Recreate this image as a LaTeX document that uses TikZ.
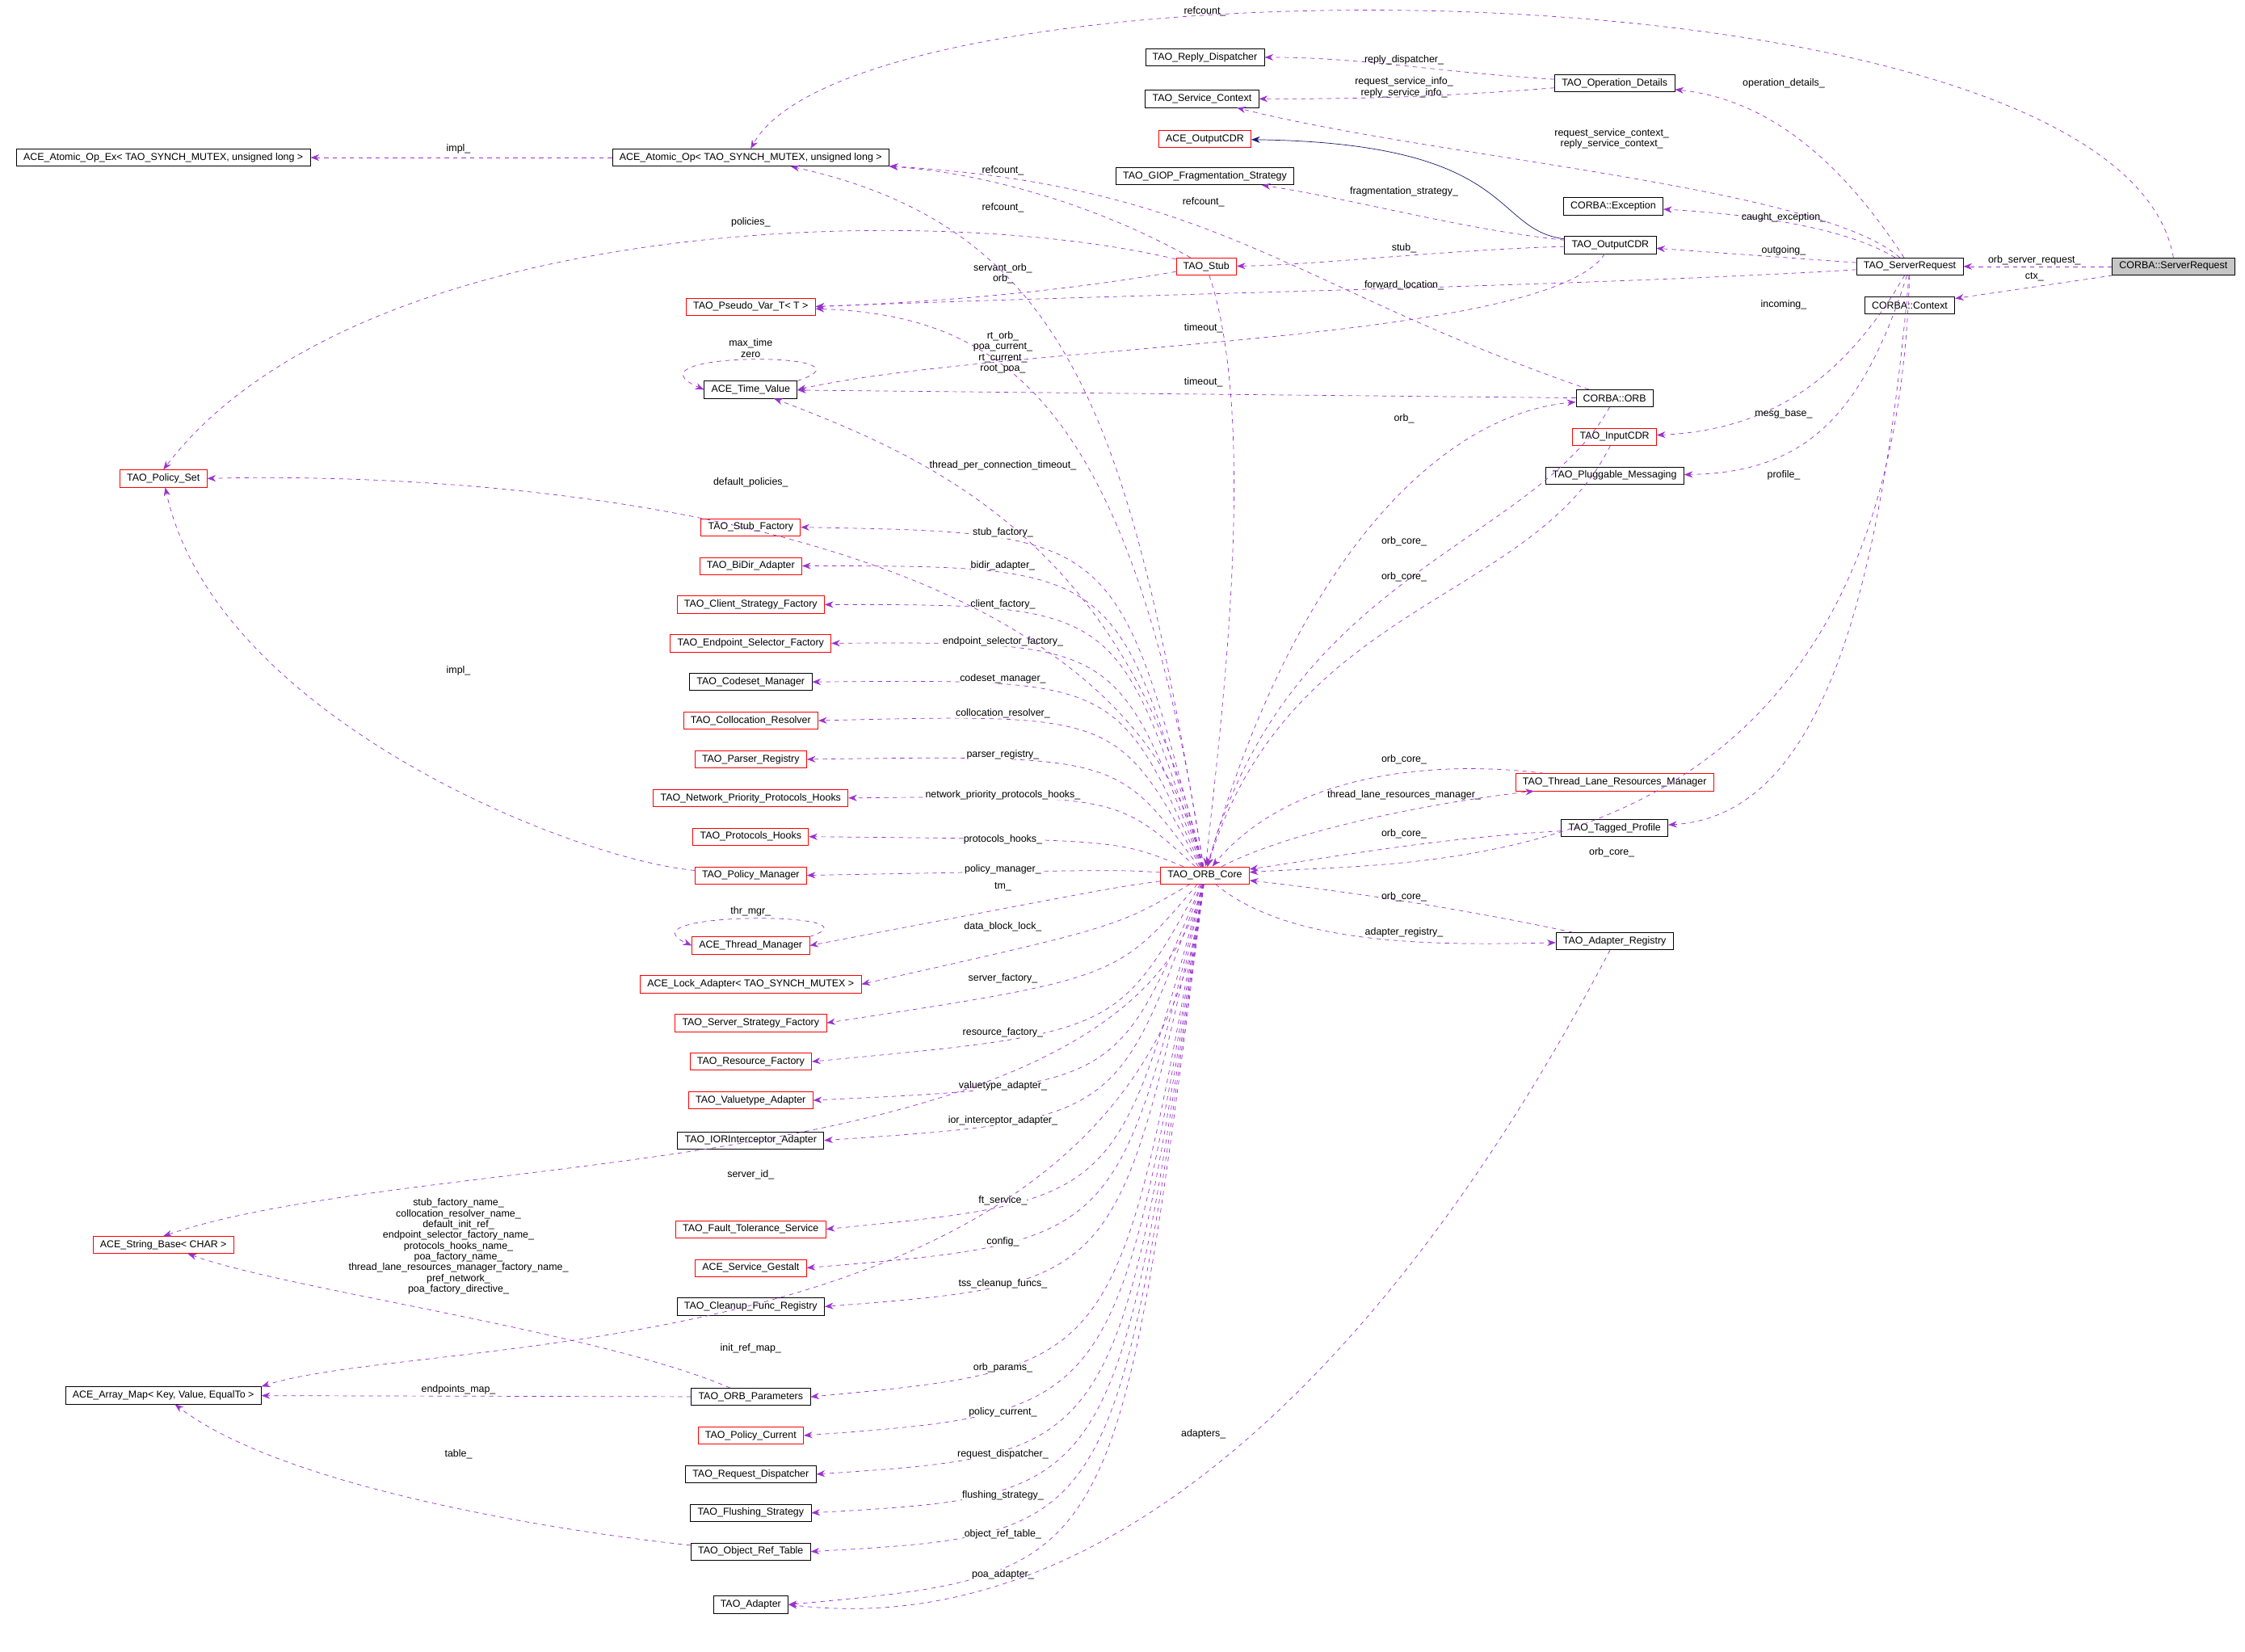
\documentclass[tikz,border=0pt]{standalone}
\usepackage{fontspec}
\setmainfont{Liberation Sans}
\usetikzlibrary{arrows.meta}
\definecolor{edgepurple}{HTML}{9A32CD}
\definecolor{inhblue}{HTML}{191970}
\tikzset{
  cls/.style = {draw=black, fill=white, inner xsep=5pt, inner ysep=1pt,
                minimum height=12pt, font=\fontsize{7}{8}\selectfont},
  ncls/.style = {cls, draw=red},
  dep/.style = {draw=edgepurple, dashed, -{Stealth[length=6pt,width=4.5pt]}},
  inh/.style = {draw=inhblue, -{Stealth[length=6pt,width=4.5pt]}},
  lbl/.style = {font=\fontsize{7}{7.5}\selectfont, align=center, inner sep=0pt}
}
\begin{document}
\catcode`\_=12
\begin{tikzpicture}[x=1pt,y=-1pt]
\useasboundingbox[fill=white] (0,0) rectangle (1567,1153);
% right side
\node[cls,fill=gray!45] (sreq) at (1517,186) {CORBA::ServerRequest};
\node[cls] (tsreq) at (1333,186) {TAO_ServerRequest};
\node[cls] (ctx) at (1333,213) {CORBA::Context};
\node[cls] (opdet) at (1127,58) {TAO_Operation_Details};
\node[cls] (exc) at (1126,144) {CORBA::Exception};
\node[cls] (ocdr) at (1124,171) {TAO_OutputCDR};
\node[cls] (orb) at (1127,278) {CORBA::ORB};
\node[ncls] (icdr) at (1127,305) {TAO_InputCDR};
\node[cls] (plug) at (1127,332) {TAO_Pluggable_Messaging};
\node[ncls] (tlrm) at (1127,546) {TAO_Thread_Lane_Resources_Manager};
\node[cls] (tagp) at (1127,578) {TAO_Tagged_Profile};
\node[cls] (adreg) at (1127,657) {TAO_Adapter_Registry};
% middle
\node[cls] (repd) at (841,40) {TAO_Reply_Dispatcher};
\node[cls] (svctx) at (839,69) {TAO_Service_Context};
\node[ncls] (acdr) at (841,97) {ACE_OutputCDR};
\node[cls] (frag) at (841,123) {TAO_GIOP_Fragmentation_Strategy};
\node[ncls] (stub) at (842,186) {TAO_Stub};
\node[ncls] (core) at (841,611) {TAO_ORB_Core};
% left
\node[cls] (atomex) at (114,110) {ACE_Atomic_Op_Ex< TAO_SYNCH_MUTEX, unsigned long >};
\node[cls] (atom) at (524,110) {ACE_Atomic_Op< TAO_SYNCH_MUTEX, unsigned long >};
\node[ncls] (pvar) at (524,214) {TAO_Pseudo_Var_T< T >};
\node[cls] (tv) at (524,272) {ACE_Time_Value};
\node[ncls] (pset) at (114,334) {TAO_Policy_Set};
\node[ncls] (strb) at (114,869) {ACE_String_Base< CHAR >};
\node[cls] (amap) at (114,974) {ACE_Array_Map< Key, Value, EqualTo >};

% ORB core members in the left column
\foreach \n/\t/\y/\c/\lab/\ly in {
  stubf/TAO_Stub_Factory/368/red/stub_factory_/372,
  bidir/TAO_BiDir_Adapter/395/red/bidir_adapter_/395,
  clistr/TAO_Client_Strategy_Factory/422/red/client_factory_/422,
  endsel/TAO_Endpoint_Selector_Factory/449/red/endpoint_selector_factory_/448,
  codeset/TAO_Codeset_Manager/476/black/codeset_manager_/474,
  colres/TAO_Collocation_Resolver/503/red/collocation_resolver_/498,
  parser/TAO_Parser_Registry/530/red/parser_registry_/527,
  netprio/TAO_Network_Priority_Protocols_Hooks/557/red/network_priority_protocols_hooks_/555,
  prothk/TAO_Protocols_Hooks/584/red/protocols_hooks_/586,
  polmgr/TAO_Policy_Manager/611/red/policy_manager_/607,
  thrmgr/ACE_Thread_Manager/660/red/tm_/619,
  lockad/{ACE_Lock_Adapter< TAO_SYNCH_MUTEX >}/687/red/data_block_lock_/647,
  srvstr/TAO_Server_Strategy_Factory/714/red/server_factory_/683,
  resf/TAO_Resource_Factory/741/red/resource_factory_/721,
  valt/TAO_Valuetype_Adapter/768/red/valuetype_adapter_/758,
  iorint/TAO_IORInterceptor_Adapter/796/black/ior_interceptor_adapter_/782,
  ftsrv/TAO_Fault_Tolerance_Service/858/red/ft_service_/838,
  gestalt/ACE_Service_Gestalt/885/red/config_/867,
  cleanup/TAO_Cleanup_Func_Registry/912/black/tss_cleanup_funcs_/896,
  orbpar/TAO_ORB_Parameters/975/black/orb_params_/955,
  polcur/TAO_Policy_Current/1002/red/policy_current_/986,
  reqdis/TAO_Request_Dispatcher/1029/black/request_dispatcher_/1015,
  flush/TAO_Flushing_Strategy/1056/black/flushing_strategy_/1044,
  objref/TAO_Object_Ref_Table/1083/black/object_ref_table_/1071,
  adapter/TAO_Adapter/1120/black/poa_adapter_/1099}
{
  \node[cls,draw=\c] (\n) at (524,\y) {\t};
  \draw[dep] (core) .. controls (780,\ly) .. (\n.east);
  \node[lbl,fill=white] (l\n) at (700,\ly) {\lab};
}

% server request
\draw[dep] (sreq.north) .. controls (1480,-35) and (600,-35) .. (atom.north);
\node[lbl] (lrefa) at (841,8) {refcount_};
\draw[dep] (sreq) -- (tsreq);
\node[lbl] (lorbsr) at (1420,182) {orb_server_request_};
\draw[dep] (sreq) -- (ctx);
\node[lbl] (lctx) at (1420,193) {ctx_};
\draw[dep] (tsreq) .. controls (1290,120) and (1240,70) .. (opdet);
\node[lbl] (lopd) at (1245,58) {operation_details_};
\draw[dep] (tsreq) .. controls (1270,130) and (1000,110) .. (svctx);
\node[lbl] (lrsc) at (1125,97) {request_service_context_\\reply_service_context_};
\draw[dep] (tsreq) .. controls (1290,160) and (1230,150) .. (exc);
\node[lbl] (lcexc) at (1245,152) {caught_exception_};
\draw[dep] (tsreq) -- (ocdr);
\node[lbl] (lout) at (1245,175) {outgoing_};
\draw[dep] (tsreq) .. controls (1100,200) and (800,205) .. (pvar.east);
\node[lbl] (lfwd) at (980,199) {forward_location_};
\draw[dep] (tsreq) .. controls (1290,260) and (1240,300) .. (icdr);
\node[lbl] (linc) at (1245,213) {incoming_};
\draw[dep] (tsreq) .. controls (1300,290) and (1260,330) .. (plug);
\node[lbl] (lmsg) at (1245,289) {mesg_base_};
\draw[dep] (tsreq) .. controls (1310,450) and (1260,570) .. (tagp);
\node[lbl] (lprof) at (1245,332) {profile_};
\draw[dep] (tsreq) .. controls (1320,620) and (1000,600) .. (core);
\node[lbl] (lcore1) at (1125,595) {orb_core_};
% operation details and output cdr
\draw[dep] (opdet) .. controls (1000,50) and (950,40) .. (repd);
\node[lbl] (lrep) at (980,42) {reply_dispatcher_};
\draw[dep] (opdet) .. controls (1000,68) and (950,69) .. (svctx);
\node[lbl] (lrsi) at (980,61) {request_service_info_\\reply_service_info_};
\draw[inh] (ocdr) .. controls (1040,160) and (1060,100) .. (acdr);
\draw[dep] (ocdr) .. controls (1020,160) and (950,140) .. (frag);
\node[lbl] (lfrag) at (980,134) {fragmentation_strategy_};
\draw[dep] (ocdr) .. controls (1000,175) and (920,185) .. (stub);
\node[lbl] (lstub) at (980,173) {stub_};
\draw[dep] (ocdr) .. controls (1080,240) and (700,240) .. (tv.east);
\node[lbl] (ltout1) at (840,229) {timeout_};
% stub
\draw[dep] (stub) .. controls (760,140) and (680,120) .. (atom);
\node[lbl] (lrefs) at (700,119) {refcount_};
\draw[dep] (stub) .. controls (760,200) and (680,210) .. (pvar.east);
\node[lbl] (lsorb) at (700,191) {servant_orb_\\orb_};
\draw[dep] (stub) .. controls (650,140) and (250,150) .. (pset.north);
\node[lbl] (lpol) at (524,155) {policies_};
\draw[dep] (stub) .. controls (880,300) and (850,520) .. (core);
\draw[dep] (atom) -- (atomex);
\node[lbl] (limpl) at (320,104) {impl_};
% ORB
\draw[dep] (orb) -- (tv);
\node[lbl] (ltout2) at (840,267) {timeout_};
\draw[dep] (orb) .. controls (900,200) and (850,130) .. (atom);
\node[lbl] (lrefo) at (840,141) {refcount_};
\draw[dep] (orb) .. controls (1070,380) and (900,400) .. (core);
\node[lbl] (lcore2) at (980,378) {orb_core_};
\draw[dep] (icdr) .. controls (1070,420) and (900,420) .. (core);
\node[lbl] (lcore3) at (980,403) {orb_core_};
\draw[dep] (tv.north east) .. controls (620,245) and (430,245) .. (tv.west);
\node[lbl] (lmaxt) at (524,243) {max_time\\zero};
% ORB core, other members
\draw[dep] (core) .. controls (790,300) and (750,160) .. (atom);
\node[lbl] (lrefc) at (700,145) {refcount_};
\draw[dep] (core) .. controls (790,280) and (700,220) .. (pvar);
\node[lbl] (lrto) at (700,246) {rt_orb_\\poa_current_\\rt_current_\\root_poa_};
\draw[dep] (core) .. controls (790,380) and (650,320) .. (tv);
\node[lbl,fill=white] (ltpc) at (700,325) {thread_per_connection_timeout_};
\draw[dep] (core) .. controls (900,400) and (1000,290) .. (orb);
\node[lbl] (lorb) at (980,292) {orb_};
\draw[dep] (core) .. controls (780,345) and (300,330) .. (pset.east);
\node[lbl,fill=white] (ldefp) at (524,337) {default_policies_};
\draw[dep] (core) .. controls (790,830) and (300,800) .. (strb.north);
\node[lbl,fill=white] (lsrvid) at (524,820) {server_id_};
\draw[dep] (core) .. controls (800,960) and (300,930) .. (amap.north east);
\node[lbl,fill=white] (liref) at (524,941) {init_ref_map_};
\draw[dep] (core) .. controls (900,580) and (1000,560) .. (tlrm);
\node[lbl] (ltlrm) at (980,555) {thread_lane_resources_manager_};
\draw[dep] (tlrm) .. controls (1000,530) and (900,540) .. (core);
\node[lbl] (lcore4) at (980,530) {orb_core_};
\draw[dep] (tagp) .. controls (1000,585) and (920,600) .. (core);
\node[lbl] (lcore5) at (980,582) {orb_core_};
\draw[dep] (adreg) .. controls (1000,630) and (920,620) .. (core);
\node[lbl] (lcore6) at (980,626) {orb_core_};
\draw[dep] (core) .. controls (900,660) and (1000,660) .. (adreg);
\node[lbl] (ladreg) at (980,651) {adapter_registry_};
\draw[dep] (adreg) .. controls (1000,900) and (800,1150) .. (adapter.east);
\node[lbl] (ladap) at (840,1001) {adapters_};
% left column dependencies
\draw[dep] (thrmgr.north east) .. controls (620,636) and (430,636) .. (thrmgr.west);
\node[lbl] (lthr) at (524,636) {thr_mgr_};
\draw[dep] (polmgr) .. controls (400,600) and (150,500) .. (pset);
\node[lbl] (limpl2) at (320,468) {impl_};
\draw[dep] (orbpar) .. controls (420,930) and (200,900) .. (strb);
\node[lbl] (lstrb) at (320,870) {stub_factory_name_\\collocation_resolver_name_\\default_init_ref_\\endpoint_selector_factory_name_\\protocols_hooks_name_\\poa_factory_name_\\thread_lane_resources_manager_factory_name_\\pref_network_\\poa_factory_directive_};
\draw[dep] (orbpar) -- (amap);
\node[lbl] (lendp) at (320,970) {endpoints_map_};
\draw[dep] (objref) .. controls (400,1070) and (200,1040) .. (amap);
\node[lbl] (ltab) at (320,1015) {table_};
\end{tikzpicture}
\end{document}
